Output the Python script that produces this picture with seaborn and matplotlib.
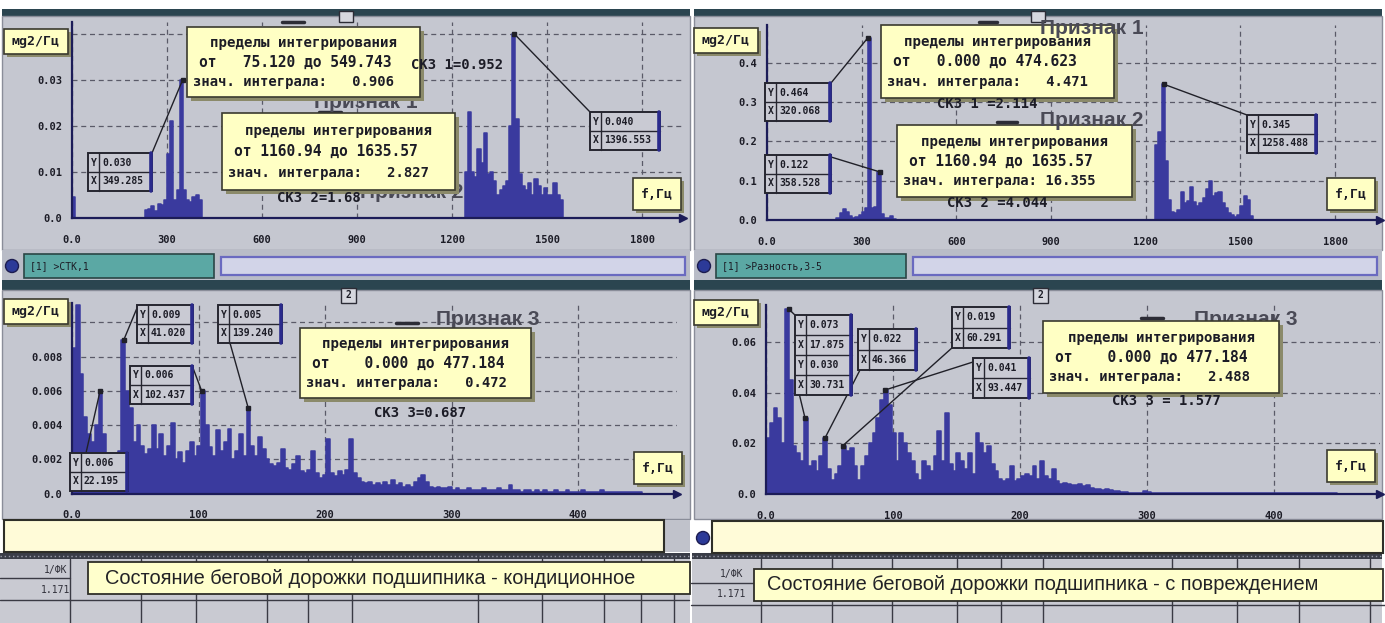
import numpy as np
import pandas as pd
import matplotlib
matplotlib.use("Agg")
import matplotlib.pyplot as plt
from matplotlib.patches import Rectangle, Ellipse
from matplotlib.lines import Line2D
import seaborn as sns

sns.set_theme(style="white")
plt.rcParams["font.family"] = ["DejaVu Sans"]

W, H = 1385, 623
MONO = "DejaVu Sans Mono"
SANS = "Liberation Sans"

# ---------------------------------------------------------------- data
# upper spectra: 10 Hz bins, analyser output up to 1740 Hz
TOP_BIN = 10
TOP_SPAN = 1740

tl_dc_start = 0
tl_dc = [0.0045]
tl_band1_start = 230
tl_band1 = [0.0017, 0.002, 0.0025, 0.0015, 0.003, 0.0028, 0.004, 0.014, 0.021,
            0.004, 0.006, 0.030, 0.006, 0.004, 0.0035, 0.0045, 0.005, 0.004]
tl_band2_start = 1240
tl_band2 = [0.010, 0.023, 0.010, 0.009, 0.015, 0.012, 0.0185, 0.0095, 0.010, 0.008,
            0.005, 0.006, 0.007, 0.008, 0.020, 0.040, 0.0215, 0.0095, 0.007, 0.006,
            0.0075, 0.005, 0.0085, 0.007, 0.005, 0.0065, 0.005, 0.005, 0.0075, 0.005,
            0.004]

tr_band1_start = 220
tr_band1 = [0.004, 0.018, 0.028, 0.020, 0.010, 0.006, 0.008, 0.012, 0.020, 0.030,
            0.464, 0.030, 0.034, 0.122, 0.015, 0.006, 0.004, 0.010, 0.003]
tr_band2_start = 1230
tr_band2 = [0.19, 0.225, 0.345, 0.15, 0.05, 0.02, 0.017, 0.025, 0.07, 0.042,
            0.048, 0.085, 0.045, 0.036, 0.042, 0.055, 0.08, 0.10, 0.06, 0.068,
            0.07, 0.042, 0.03, 0.017, 0.013, 0.008, 0.012, 0.035, 0.06, 0.05,
            0.01]

# lower spectra: 3 Hz bins, analyser output up to 477 Hz
LOW_BIN = 3
LOW_SPAN = 477

bl_start = 0
bl_values = [
    0.0085, 0.011, 0.007, 0.0045, 0.0035, 0.003, 0.004, 0.006, 0.0035, 0.002,
    0.0015, 0.0018, 0.0025, 0.009, 0.006, 0.005, 0.003, 0.004, 0.0028, 0.0023,
    0.0026, 0.004, 0.0026, 0.0035, 0.0022, 0.0028, 0.0041, 0.002, 0.0024, 0.0018,
    0.0025, 0.003, 0.0022, 0.0028, 0.006, 0.004, 0.0027, 0.0022, 0.0037, 0.0025,
    0.003, 0.0038, 0.002, 0.0025, 0.0035, 0.0022, 0.005, 0.0028, 0.0022, 0.0033,
    0.0026, 0.002, 0.0017, 0.0016, 0.0018, 0.0026, 0.0015, 0.0014, 0.0017, 0.0022,
    0.0013, 0.0012, 0.0014, 0.0025, 0.0012, 0.0009, 0.0011, 0.0032, 0.0012, 0.001,
    0.0013, 0.0011, 0.0014, 0.0032, 0.0012, 0.0009, 0.0007, 0.0006, 0.0007, 0.0005,
    0.0006, 0.0005, 0.0007, 0.0005, 0.0008, 0.0005, 0.0006, 0.0004, 0.0005, 0.0004,
    0.0007, 0.0009, 0.0011, 0.0007, 0.0004, 0.0003, 0.0004, 0.0003, 0.0003, 0.0004,
    0.0002, 0.0003, 0.0002, 0.0002, 0.0003, 0.0002, 0.0002, 0.0002, 0.0003, 0.0002,
    0.0002, 0.0002, 0.0003, 0.0002, 0.0002, 0.0005, 0.0002, 0.0002, 0.0001, 0.0002,
    0.0002, 0.0001, 0.0002, 0.0001, 0.0002, 0.0001, 0.0001, 0.0002, 0.0001, 0.0001,
    0.0002, 0.0001, 0.0001, 0.0001, 0.0002, 0.0001, 0.0001, 0.0001, 0.0001, 0.0002,
    0.0001, 0.0001, 0.0001, 0.0001, 0.0001, 0.0001, 0.0001, 0.0001, 0.0001, 0.0001,
]

br_start = 0
br_values = [
    0.022, 0.028, 0.034, 0.030, 0.020, 0.073, 0.045, 0.019, 0.016, 0.013,
    0.030, 0.011, 0.013, 0.009, 0.015, 0.022, 0.010, 0.0055, 0.008, 0.011,
    0.019, 0.017, 0.018, 0.011, 0.0055, 0.011, 0.015, 0.020, 0.024, 0.030,
    0.037, 0.041, 0.035, 0.024, 0.013, 0.024, 0.020, 0.016, 0.013, 0.008,
    0.0055, 0.013, 0.011, 0.009, 0.015, 0.025, 0.013, 0.032, 0.012, 0.009,
    0.016, 0.013, 0.010, 0.016, 0.008, 0.024, 0.020, 0.016, 0.019, 0.012,
    0.009, 0.006, 0.005, 0.006, 0.011, 0.005, 0.006, 0.007, 0.008, 0.007,
    0.011, 0.006, 0.013, 0.007, 0.006, 0.010, 0.005, 0.004, 0.0045, 0.004,
    0.0035, 0.0036, 0.004, 0.003, 0.0035, 0.0025, 0.002, 0.0018, 0.0016, 0.0018,
    0.0015, 0.001, 0.0012, 0.0008, 0.0006, 0.0005, 0.0004, 0.0004, 0.0005, 0.0012,
    0.0006, 0.0004, 0.0004, 0.0003, 0.0004, 0.0003, 0.0003, 0.0004, 0.0003, 0.0003,
    0.0003, 0.0003, 0.0004, 0.0003, 0.0003, 0.0003, 0.0004, 0.0003, 0.0003, 0.0003,
    0.0003, 0.0003, 0.0003, 0.0003, 0.0003, 0.0003, 0.0003, 0.0003, 0.0003, 0.0003,
    0.0003, 0.0003, 0.0003, 0.0003, 0.0003, 0.0003, 0.0003, 0.0003, 0.0003, 0.0003,
    0.0003, 0.0003, 0.0003, 0.0003, 0.0003, 0.0003, 0.0003, 0.0003, 0.0003, 0.0003,
]

# cursor read-outs (frequency, value)
tl_cursor_f = [349.285, 1396.553]
tl_cursor_v = [0.030, 0.040]
tr_cursor_f = [320.068, 358.528, 1258.488]
tr_cursor_v = [0.464, 0.122, 0.345]
bl_cursor_f = [22.195, 41.020, 102.437, 139.240]
bl_cursor_v = [0.006, 0.009, 0.006, 0.005]
br_cursor_f = [17.875, 30.731, 46.366, 60.291, 93.447]
br_cursor_v = [0.073, 0.030, 0.022, 0.019, 0.041]

top_xticks = [0, 300, 600, 900, 1200, 1500, 1800]
top_xlabels = ["0.0", "300", "600", "900", "1200", "1500", "1800"]
low_xticks = [0, 100, 200, 300, 400]
low_xlabels = ["0.0", "100", "200", "300", "400"]
tl_yticks = [0, 0.01, 0.02, 0.03, 0.04]
tl_ylabels = ["0.0", "0.01", "0.02", "0.03", ""]
tr_yticks = [0, 0.1, 0.2, 0.3, 0.4]
tr_ylabels = ["0.0", "0.1", "0.2", "0.3", "0.4"]
bl_yticks = [0, 0.002, 0.004, 0.006, 0.008, 0.010]
bl_ylabels = ["0.0", "0.002", "0.004", "0.006", "0.008", ""]
br_yticks = [0, 0.02, 0.04, 0.06]
br_ylabels = ["0.0", "0.02", "0.04", "0.06"]

# ---------------------------------------------------------------- style
WIN = "#c5c7d0"
BAND = "#2b4550"
YEL = "#ffffc4"
SPEC = "#3a3a9e"
AXC = "#1c1c58"
GRID = "#5a5a68"
INK = "#1c1c26"
GREYTXT = "#4a4a56"

fig = plt.figure(figsize=(W / 100, H / 100), dpi=100)
fig.patch.set_facecolor("white")


def rect(x0, y0, x1, y1, fc, ec="none", lw=1.0, z=-5):
    fig.add_artist(Rectangle((x0 / W, 1 - y1 / H), (x1 - x0) / W, (y1 - y0) / H,
                             transform=fig.transFigure, facecolor=fc,
                             edgecolor=ec, linewidth=lw, zorder=z))


def dot(x, y, r, fc, ec, z=-3):
    fig.add_artist(Ellipse((x / W, 1 - y / H), 2 * r / W, 2 * r / H,
                           transform=fig.transFigure, facecolor=fc,
                           edgecolor=ec, zorder=z))


def seg(x0, y0, x1, y1, color, lw=1.0, z=-4, ls="-"):
    fig.add_artist(Line2D([x0 / W, x1 / W], [1 - y0 / H, 1 - y1 / H],
                          transform=fig.transFigure, color=color, lw=lw,
                          zorder=z, ls=ls))


def txt(x, y, s, size=9, family=MONO, weight="bold", color=INK, ha="left",
        va="center", z=7):
    fig.text(x / W, 1 - y / H, s, fontsize=size, family=family, weight=weight,
             color=color, ha=ha, va=va, zorder=z)


def yellow(x0, y0, x1, y1, z=5, shadow=4):
    rect(x0 + shadow, y0 + shadow, x1 + shadow, y1 + shadow, "#8b8a6a", z=z - 0.1)
    rect(x0, y0, x1, y1, YEL, ec="#3a3a2e", lw=1.2, z=z)


def info_box(x0, y0, x1, y1, l2, l3):
    yellow(x0, y0, x1, y1)
    h = y1 - y0
    txt((x0 + x1) / 2, y0 + h * 0.23, "пределы интегрирования", size=10.2, ha="center")
    txt(x0 + 12, y0 + h * 0.50, l2, size=10.5)
    txt(x0 + 6, y0 + h * 0.78, l3, size=10)


def cursor_box(x0, y0, w, rows, rh=19):
    h = rh * len(rows)
    rect(x0, y0, x0 + w, y0 + h, "#c9cad3", ec="#262630", lw=1.4, z=5)
    seg(x0 + 11, y0, x0 + 11, y0 + h, "#262630", lw=1.0, z=5.5)
    seg(x0 + w - 1, y0, x0 + w - 1, y0 + h, "#2a2a8c", lw=2.6, z=5.6)
    for i, (k, v) in enumerate(rows):
        yy = y0 + rh * i
        if i:
            seg(x0, yy, x0 + w, yy, "#262630", lw=1.0, z=5.5)
        txt(x0 + 2.5, yy + rh / 2, k, size=7)
        txt(x0 + 14, yy + rh / 2, v, size=7)


def spectrum_frame(start_vals, step, span):
    n = int(round(span / step))
    amps = np.zeros(n)
    for start, vals in start_vals:
        i = int(round(start / step))
        amps[i:i + len(vals)] = vals
    centers = np.arange(n) * step + step / 2
    return pd.DataFrame({"freq": centers, "amp": amps})


def spectrum_axes(x0, x1, ytop, ybase, df, step, span, xmax, ymax, xt, xl, yt, yl,
                  xminor, yminor):
    ax = fig.add_axes([x0 / W, 1 - ybase / H, (x1 - x0) / W, (ybase - ytop) / H])
    ax.set_facecolor("none")
    sns.histplot(data=df, x="freq", weights="amp", binwidth=step,
                 binrange=(0, span), element="step", fill=True, color=SPEC,
                 alpha=1.0, edgecolor=SPEC, linewidth=1.1, ax=ax)
    ax.set_xlim(0, xmax)
    ax.set_ylim(0, ymax)
    ax.set_xlabel("")
    ax.set_ylabel("")
    ax.set_xticks(xt)
    ax.set_xticklabels(xl)
    ax.set_yticks(yt)
    ax.set_yticklabels(yl)
    ax.set_xticks(xminor, minor=True)
    ax.set_yticks(yminor, minor=True)
    for lab in ax.get_xticklabels() + ax.get_yticklabels():
        lab.set_fontfamily(MONO)
        lab.set_fontweight("bold")
        lab.set_fontsize(7.5)
        lab.set_color(INK)
    ax.tick_params(axis="x", which="major", direction="inout", length=6,
                   width=1.0, color=AXC, pad=9)
    ax.tick_params(axis="y", which="major", direction="out", length=4,
                   width=1.0, color=AXC, pad=3)
    ax.tick_params(which="minor", direction="inout", length=4, width=0.8, color=AXC)
    ax.grid(True, which="major", color=GRID, ls=(0, (4, 3)), lw=0.9)
    ax.set_axisbelow(True)
    for s in ("top", "right"):
        ax.spines[s].set_visible(False)
    for s in ("left", "bottom"):
        ax.spines[s].set_color(AXC)
        ax.spines[s].set_linewidth(1.6)
    ax.plot([1], [0], marker=">", ms=6, color=AXC, transform=ax.transAxes,
            clip_on=False, zorder=6)
    return ax


def cursor_lines(ax, freqs, vals, anchors):
    for f, v, (px, py) in zip(freqs, vals, anchors):
        ax.annotate("", xy=(f, v), xycoords="data", xytext=(px, H - py),
                    textcoords="figure pixels",
                    arrowprops=dict(arrowstyle="-", color="#202028", lw=1.0,
                                    shrinkA=0, shrinkB=0),
                    annotation_clip=False)
    ax.plot(freqs, vals, "s", ms=3, color="#202028", clip_on=False, zorder=6)


def unit_boxes(ox_y, oy_y, ox_f, oy_f):
    yellow(ox_y, oy_y, ox_y + 64, oy_y + 25, shadow=3)
    txt(ox_y + 32, oy_y + 12.5, "мg2/Гц", size=9.5, ha="center")
    yellow(ox_f, oy_f, ox_f + 48, oy_f + 32, shadow=3)
    txt(ox_f + 24, oy_f + 16, "f,Гц", size=9.5, ha="center")


# ---------------------------------------------------------------- window chrome
for ox, tag in ((0, "[1] >СТК,1"), (692, "[1] >Разность,3-5")):
    rect(ox + 2, 9, ox + 690, 16, BAND)
    rect(ox + 2, 16, ox + 690, 250, WIN, ec="#8a8d99")
    rect(ox + 339, 11, ox + 353, 22, "#d6d7de", ec="#2c2c36", z=-3)
    rect(ox + 2, 250, ox + 690, 280, "#b9bcc7")
    dot(ox + 12, 266, 6.5, "#2c3a98", "#1c1c50")
    rect(ox + 24, 254, ox + 214, 278, "#5ba8a4", ec="#2a4646", lw=1.2, z=-3)
    txt(ox + 30, 266, tag, size=7, weight="normal", z=-2)
    rect(ox + 221, 257, ox + 685, 275, "#d2d4e8", ec="#6a6ac0", lw=1.6, z=-3)
    rect(ox + 2, 280, ox + 690, 290, BAND)
    rect(ox + 2, 290, ox + 690, 519, WIN, ec="#8a8d99")
    rect(ox + 341, 288, ox + 356, 303, "#d6d7de", ec="#2c2c36", z=-3)
    txt(ox + 348.5, 295.5, "2", size=7, ha="center", z=-2)
    rect(ox + 0, 553, ox + 690, 559, "#3a3d48")
    seg(ox + 0, 556, ox + 690, 556, "#9a9caa", lw=1.0, ls=(0, (1, 2)), z=-3)
    rect(ox + 0, 559, ox + 690, 623, "#c9cad2")

# lower status strips
rect(4, 520, 664, 552, "#fffbd8", ec="#2e2e28", lw=1.5, z=-3)
rect(664, 520, 690, 552, "#c0c2cb", z=-3.5)
rect(712, 521, 1383, 553, "#fffbd8", ec="#2e2e28", lw=1.5, z=-3)
dot(703, 538, 6.5, "#2c3a98", "#1c1c50")

# bottom tables
for xs, y_rows, y_end in (([70, 141, 196, 267, 308, 352, 478, 542, 604, 641, 674], 578, 600),
                          ([761, 832, 892, 957, 1001, 1043, 1172, 1237, 1299, 1370], 583, 605)):
    for x in xs:
        seg(x, 559, x, 623, "#3a3a44", lw=1.0, z=-3)
    seg(xs[0] - 70, y_end, xs[-1] + 15, y_end, "#3a3a44", lw=1.0, z=-3)
    seg(xs[0] - 70, y_rows, xs[0], y_rows, "#3a3a44", lw=1.0, z=-3)
txt(44, 570, "1/ФК", size=7, weight="normal", color="#30303a", z=-2)
txt(41, 590, "1.171", size=7, weight="normal", color="#30303a", z=-2)
txt(720, 574, "1/ФК", size=7, weight="normal", color="#30303a", z=-2)
txt(717, 594, "1.171", size=7, weight="normal", color="#30303a", z=-2)

rect(88, 562, 690, 594, "#ffffcc", ec="#2e2e28", lw=1.3, z=4)
txt(105, 579, "Состояние беговой дорожки подшипника - кондиционное", size=14.4,
    family=SANS, weight="normal", color="#222226")
rect(754, 569, 1383, 601, "#ffffcc", ec="#2e2e28", lw=1.3, z=4)
txt(767, 585, "Состояние беговой дорожки подшипника - с повреждением", size=14.4,
    family=SANS, weight="normal", color="#222226")

# ---------------------------------------------------------------- spectra
tl_df = spectrum_frame([(tl_dc_start, tl_dc), (tl_band1_start, tl_band1),
                        (tl_band2_start, tl_band2)], TOP_BIN, TOP_SPAN)
tr_df = spectrum_frame([(tr_band1_start, tr_band1),
                        (tr_band2_start, tr_band2)], TOP_BIN, TOP_SPAN)
bl_df = spectrum_frame([(bl_start, bl_values)], LOW_BIN, LOW_SPAN)
br_df = spectrum_frame([(br_start, br_values)], LOW_BIN, LOW_SPAN)

top_minor = [150, 450, 750, 1050, 1350, 1650]
low_minor = [50, 150, 250, 350, 450]

ax_tl = spectrum_axes(72, 683, 22, 218, tl_df, TOP_BIN, TOP_SPAN, 1929, 0.0426,
                      top_xticks, top_xlabels, tl_yticks, tl_ylabels,
                      top_minor, [0.005, 0.015, 0.025, 0.035])
ax_tr = spectrum_axes(767, 1380, 25, 220, tr_df, TOP_BIN, TOP_SPAN, 1942, 0.496,
                      top_xticks, top_xlabels, tr_yticks, tr_ylabels,
                      top_minor, [0.05, 0.15, 0.25, 0.35, 0.45])
ax_bl = spectrum_axes(72, 677, 303, 493.5, bl_df, LOW_BIN, LOW_SPAN, 478, 0.01114,
                      low_xticks, low_xlabels, bl_yticks, bl_ylabels,
                      low_minor, [0.001, 0.003, 0.005, 0.007, 0.009])
ax_br = spectrum_axes(766, 1380, 305, 494, br_df, LOW_BIN, LOW_SPAN, 483.5, 0.0746,
                      low_xticks, low_xlabels, br_yticks, br_ylabels,
                      low_minor, [0.01, 0.03, 0.05, 0.07])

# ---------------------------------------------------------------- top-left overlays
seg(282, 22, 304, 22, "#2c2c36", lw=2.5, z=3)
seg(319, 112, 341, 112, "#2c2c36", lw=2.5, z=3)
txt(314, 102, "Признак 1", size=15, family=SANS, color=GREYTXT, z=4.8)
txt(360, 193, "Признак 2", size=15, family=SANS, color=GREYTXT, z=4.8)
info_box(187, 27, 420, 97, "от   75.120 до 549.743", "знач. интеграла:   0.906")
info_box(222, 113, 455, 190, "от 1160.94 до 1635.57", "знач. интеграла:   2.827")
txt(411, 65, "СКЗ 1=0.952", size=10)
txt(277, 198, "СКЗ 2=1.68", size=10)
cursor_lines(ax_tl, tl_cursor_f, tl_cursor_v, [(152, 153), (590, 112)])
cursor_box(88, 153, 64, [("Y", "0.030"), ("X", "349.285")])
cursor_box(590, 112, 70, [("Y", "0.040"), ("X", "1396.553")])
unit_boxes(4, 29, 633, 178)

# ---------------------------------------------------------------- top-right overlays
seg(979, 22, 997, 22, "#2c2c36", lw=2.5, z=3)
info_box(881, 25, 1114, 98, "от   0.000 до 474.623", "знач. интеграла:   4.471")
info_box(897, 125, 1132, 197, "от 1160.94 до 1635.57", "знач. интеграла: 16.355")
txt(1040, 28, "Признак 1", size=15, family=SANS, color=GREYTXT, z=8)
seg(997, 122, 1017, 122, "#2c2c36", lw=2.5, z=8)
txt(1040, 120, "Признак 2", size=15, family=SANS, color=GREYTXT, z=8)
txt(937, 104, "СКЗ 1 =2.114", size=10)
txt(947, 203, "СКЗ 2 =4.044", size=10)
cursor_lines(ax_tr, tr_cursor_f, tr_cursor_v, [(831, 83), (831, 157), (1247, 115)])
cursor_box(765, 83, 66, [("Y", "0.464"), ("X", "320.068")])
cursor_box(765, 155, 66, [("Y", "0.122"), ("X", "358.528")])
cursor_box(1247, 115, 70, [("Y", "0.345"), ("X", "1258.488")])
unit_boxes(694, 28, 1327, 178)

# ---------------------------------------------------------------- bottom-left overlays
seg(396, 323, 418, 323, "#2c2c36", lw=2.5, z=3)
txt(436, 320, "Признак 3", size=15, family=SANS, color=GREYTXT, z=4.8)
info_box(300, 328, 531, 398, "от    0.000 до 477.184", "знач. интеграла:   0.472")
txt(374, 413, "СКЗ 3=0.687", size=10)
cursor_lines(ax_bl, bl_cursor_f, bl_cursor_v,
             [(86, 453), (137, 308), (193, 368), (230, 343)])
cursor_box(70, 453, 58, [("Y", "0.006"), ("X", "22.195")])
cursor_box(137, 305, 56, [("Y", "0.009"), ("X", "41.020")])
cursor_box(130, 366, 63, [("Y", "0.006"), ("X", "102.437")])
cursor_box(218, 305, 64, [("Y", "0.005"), ("X", "139.240")])
unit_boxes(4, 299, 634, 452)

# ---------------------------------------------------------------- bottom-right overlays
seg(1141, 318, 1163, 318, "#2c2c36", lw=2.5, z=3)
txt(1194, 320, "Признак 3", size=15, family=SANS, color=GREYTXT, z=4.8)
info_box(1043, 321, 1279, 393, "от    0.000 до 477.184", "знач. интеграла:   2.488")
txt(1112, 401, "СКЗ 3 = 1.577", size=10)
cursor_lines(ax_br, br_cursor_f, br_cursor_v,
             [(797, 317), (799, 393), (860, 370), (953, 347), (973, 362)])
cursor_box(795, 315, 57, [("Y", "0.073"), ("X", "17.875"), ("Y", "0.030"), ("X", "30.731")], rh=20)
cursor_box(858, 329, 59, [("Y", "0.022"), ("X", "46.366")], rh=20.5)
cursor_box(952, 307, 58, [("Y", "0.019"), ("X", "60.291")], rh=20.5)
cursor_box(973, 358, 57, [("Y", "0.041"), ("X", "93.447")], rh=20)
unit_boxes(694, 300, 1327, 450)

fig.savefig("out.png", dpi=100, facecolor="white")
